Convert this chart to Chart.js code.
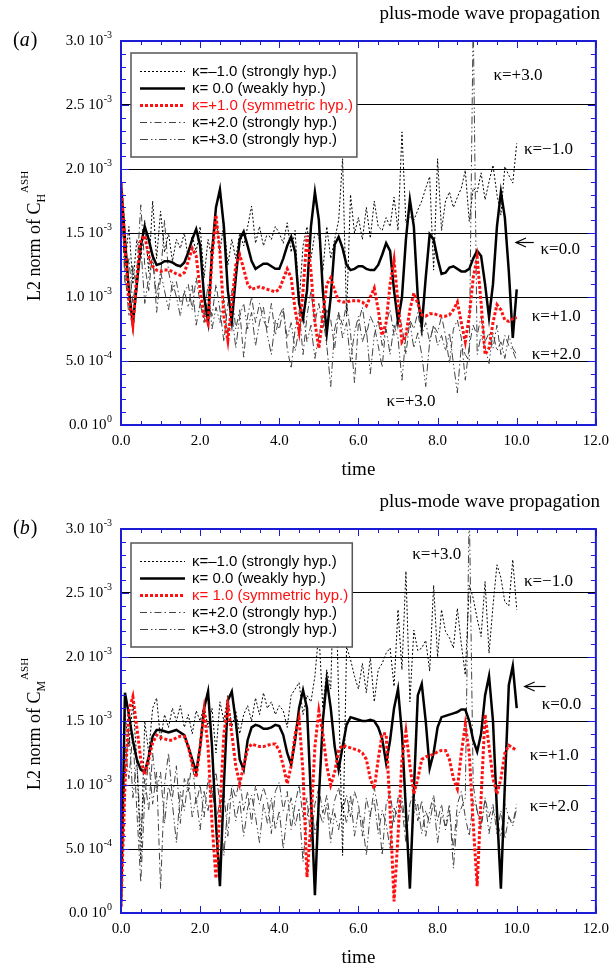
<!DOCTYPE html>
<html>
<head>
<meta charset="utf-8">
<script src="https://cdn.jsdelivr.net/npm/chart.js@4.4.1/dist/chart.umd.min.js"></script>
<style>
  html, body { margin: 0; padding: 0; background: #fff; }
  #wrap { position: relative; width: 616px; height: 970px; }
  canvas { position: absolute; left: 0; }
</style>
</head>
<body>
<div id="wrap">
  <canvas id="chartA" width="616" height="485" style="top:0"></canvas>
  <canvas id="chartB" width="616" height="485" style="top:485px"></canvas>
</div>
<script>
// values are in units of 1e-3
const time = [
  0.0,0.1,0.2,0.3,0.4,0.5,0.6,0.7,0.8,0.9,
  1.0,1.1,1.2,1.3,1.4,1.5,1.6,1.7,1.8,1.9,
  2.0,2.1,2.2,2.3,2.4,2.5,2.6,2.7,2.8,2.9,
  3.0,3.1,3.2,3.3,3.4,3.5,3.6,3.7,3.8,3.9,
  4.0,4.1,4.2,4.3,4.4,4.5,4.6,4.7,4.8,4.9,
  5.0,5.1,5.2,5.3,5.4,5.5,5.6,5.7,5.8,5.9,
  6.0,6.1,6.2,6.3,6.4,6.5,6.6,6.7,6.8,6.9,
  7.0,7.1,7.2,7.3,7.4,7.5,7.6,7.7,7.8,7.9,
  8.0,8.1,8.2,8.3,8.4,8.5,8.6,8.7,8.8,8.9,
  9.0,9.1,9.2,9.3,9.4,9.5,9.6,9.7,9.8,9.9,
  10.0];

// (a) C_H
const kapNeg1A = [
  1.80,1.25,1.55,1.10,1.45,1.30,1.60,1.20,1.75,1.30,
  1.67,1.35,1.50,1.28,1.45,1.38,1.50,1.30,1.48,1.35,
  1.55,1.15,1.45,1.30,1.62,1.35,1.58,1.25,1.45,1.30,
  1.50,1.40,1.55,1.71,1.42,1.55,1.40,1.50,1.45,1.55,
  1.50,1.42,1.58,1.35,1.52,0.95,1.40,1.55,1.30,1.50,
  1.48,1.20,1.55,1.30,1.45,1.60,2.08,0.85,1.80,1.50,
  1.62,1.45,1.70,1.46,1.75,1.55,1.52,1.62,1.55,1.78,
  1.52,2.29,1.58,1.63,1.60,1.68,1.75,1.85,1.94,1.21,
  2.08,1.52,1.75,1.82,1.70,1.78,1.85,1.99,1.59,1.85,
  1.82,1.97,1.76,1.90,2.03,1.80,1.64,2.02,1.95,1.89,
  2.20];
const kap0A = [
  1.89,1.45,1.05,0.79,1.10,1.40,1.55,1.45,1.32,1.25,
  1.26,1.28,1.28,1.27,1.25,1.24,1.27,1.35,1.45,1.53,
  1.40,1.00,0.81,1.35,1.70,1.84,1.55,1.05,0.81,1.15,
  1.45,1.51,1.40,1.28,1.22,1.24,1.26,1.26,1.24,1.22,
  1.22,1.30,1.40,1.47,1.35,0.95,0.83,1.05,1.55,1.82,
  1.60,1.05,0.72,1.00,1.41,1.47,1.38,1.25,1.21,1.22,
  1.24,1.24,1.22,1.21,1.21,1.25,1.33,1.42,1.36,1.05,
  0.81,1.00,1.45,1.76,1.55,1.00,0.77,1.15,1.49,1.45,
  1.30,1.18,1.19,1.23,1.24,1.22,1.20,1.20,1.22,1.30,
  1.36,1.32,1.10,0.84,1.10,1.55,1.82,1.62,1.20,0.68,
  1.06];
const kap1A = [
  1.89,1.40,0.98,0.78,1.15,1.45,1.48,1.32,1.24,1.21,
  1.20,1.21,1.21,1.20,1.18,1.17,1.19,1.28,1.38,1.32,
  1.05,0.85,0.79,1.30,1.64,1.35,0.85,0.66,0.95,1.25,
  1.33,1.22,1.10,1.06,1.07,1.08,1.07,1.06,1.05,1.04,
  1.06,1.14,1.22,1.15,0.90,0.73,1.05,1.48,1.20,0.80,
  0.60,0.85,1.10,1.15,1.05,0.97,0.96,0.96,0.97,0.97,
  0.97,0.96,0.93,1.00,1.07,0.90,0.70,0.80,1.10,1.29,
  0.95,0.65,0.70,0.90,1.03,0.95,0.86,0.85,0.87,0.87,
  0.86,0.85,0.85,0.86,0.90,0.96,0.80,0.65,0.85,1.15,
  1.31,0.95,0.55,0.60,0.80,0.94,0.90,0.82,0.81,0.83,
  0.84];
const kap2A = [
  1.85,1.10,1.30,0.95,1.20,1.72,1.25,1.05,1.35,0.88,
  1.15,1.60,1.20,1.05,1.12,0.95,1.03,1.10,0.90,1.15,
  0.95,0.80,1.00,0.85,1.10,0.90,0.65,0.95,1.05,0.75,
  0.90,0.53,0.85,1.00,0.80,0.95,0.82,0.75,0.95,0.70,
  0.85,0.92,0.60,0.44,0.75,0.90,0.55,0.85,1.05,0.80,
  0.95,0.75,0.90,0.82,0.60,0.88,0.78,0.95,0.72,0.33,
  0.80,0.92,0.70,0.85,0.78,0.62,0.45,0.80,0.90,0.70,
  0.85,0.78,0.55,0.82,0.75,0.88,0.70,0.80,0.65,0.78,
  0.72,0.85,0.70,0.48,0.75,0.82,0.68,0.35,0.62,0.78,
  0.70,0.85,0.65,0.72,0.60,0.78,0.55,0.70,0.62,0.58,
  0.50];
const kap3A = [
  1.85,1.20,0.85,1.25,1.05,1.40,0.95,1.15,1.30,1.00,
  1.20,1.05,0.90,1.12,1.00,0.85,1.05,0.92,1.10,0.78,
  0.95,0.85,1.10,0.75,0.92,0.80,1.00,0.70,0.88,0.60,
  0.85,0.95,0.75,0.88,0.62,0.80,0.92,0.70,0.55,0.82,
  0.75,0.90,0.68,0.80,0.58,0.75,0.88,0.65,0.78,0.52,
  0.70,0.85,0.62,0.30,0.75,0.88,0.68,0.80,0.50,0.72,
  0.85,0.65,0.75,0.40,0.70,0.82,0.62,0.75,0.55,0.78,
  0.68,0.35,0.70,0.80,0.60,0.72,0.55,0.30,0.65,0.78,
  0.62,0.70,0.58,0.72,0.48,0.25,0.62,0.55,0.50,3.20,
  0.55,0.70,0.60,0.48,0.72,0.58,0.65,0.52,0.70,0.60,
  0.55];

// (b) C_M
const kapNeg1B = [
  0.05,1.55,1.30,1.65,1.20,0.40,1.50,1.25,1.60,1.68,
  1.35,1.55,1.45,1.60,1.50,1.62,1.45,1.55,1.40,1.58,
  1.50,1.62,1.45,1.60,1.25,1.65,1.50,1.70,1.45,1.58,
  1.40,1.55,1.62,1.50,1.68,1.55,1.72,1.60,1.65,1.55,
  1.62,1.58,1.45,1.70,1.75,1.80,1.55,1.70,1.65,1.85,
  2.20,1.60,1.90,1.75,2.85,1.70,0.45,2.08,1.98,1.85,
  1.75,1.95,1.72,2.00,1.65,1.90,1.95,2.03,2.07,1.77,
  2.37,1.90,2.67,1.65,2.21,2.05,2.07,2.13,1.89,2.56,
  2.00,2.37,2.20,2.15,2.07,2.38,2.10,1.86,2.56,2.46,
  2.30,2.16,2.59,2.03,2.40,2.72,2.62,2.43,2.40,2.76,
  2.37];
const kap0B = [
  0.05,1.72,1.55,1.35,1.20,1.12,1.10,1.22,1.38,1.43,
  1.43,1.42,1.41,1.42,1.43,1.41,1.39,1.30,1.20,1.10,
  1.30,1.60,1.73,1.30,0.70,0.21,1.00,1.66,1.73,1.50,
  1.20,1.12,1.35,1.45,1.47,1.46,1.44,1.44,1.45,1.47,
  1.46,1.39,1.25,1.16,1.35,1.60,1.74,1.60,0.90,0.14,
  0.90,1.50,1.82,1.60,1.30,1.12,1.30,1.47,1.53,1.52,
  1.51,1.50,1.50,1.51,1.50,1.45,1.36,1.17,1.35,1.60,
  1.75,1.40,0.80,0.19,0.95,1.70,1.79,1.50,1.13,1.25,
  1.45,1.53,1.54,1.55,1.56,1.57,1.59,1.59,1.50,1.35,
  1.26,1.40,1.70,1.85,1.50,0.80,0.19,1.00,1.78,1.93,
  1.60];
const kap1B = [
  0.05,1.00,1.58,1.69,1.45,1.20,1.08,1.20,1.33,1.39,
  1.37,1.36,1.35,1.35,1.37,1.38,1.38,1.30,1.16,1.06,
  1.30,1.58,1.30,0.70,0.27,0.80,1.40,1.62,1.40,1.15,
  1.01,1.15,1.28,1.32,1.31,1.30,1.30,1.31,1.32,1.32,
  1.27,1.15,1.01,1.15,1.40,1.52,1.10,0.28,0.70,1.30,
  1.58,1.40,1.15,1.00,1.10,1.27,1.31,1.30,1.29,1.28,
  1.27,1.25,1.20,1.05,0.97,1.20,1.40,1.40,0.80,0.09,
  0.60,1.20,1.42,1.15,0.93,1.05,1.20,1.22,1.23,1.24,
  1.26,1.27,1.27,1.20,1.05,0.97,1.25,1.47,1.25,0.70,
  0.21,0.90,1.55,1.30,1.05,0.93,1.05,1.25,1.31,1.29,
  1.27];
const kap2B = [
  0.05,1.30,1.05,1.40,0.80,0.24,0.90,1.20,0.85,1.10,
  0.19,1.00,1.25,0.90,1.15,0.70,1.05,0.95,1.20,0.85,
  1.00,0.75,1.05,0.90,1.10,0.85,0.95,0.60,1.00,0.90,
  1.05,0.80,0.95,0.70,1.00,0.85,0.98,0.88,0.62,0.95,
  1.02,0.80,0.95,0.65,0.85,1.00,0.75,0.90,0.55,0.85,
  0.98,0.78,0.92,0.70,0.88,0.98,0.80,0.92,0.75,0.95,
  0.85,0.60,0.90,0.75,0.98,0.80,0.45,0.85,0.95,0.70,
  0.90,0.82,0.55,0.85,0.95,0.72,0.88,0.60,0.80,0.92,
  0.72,0.85,0.65,0.80,0.50,0.85,0.95,0.75,0.60,0.88,
  0.80,0.65,0.90,0.75,0.85,0.62,0.80,0.58,0.75,0.70,
  0.85];
const kap3B = [
  0.05,1.10,1.45,0.90,1.20,0.60,1.05,0.80,1.25,0.95,
  1.10,0.70,1.00,0.85,0.55,0.95,0.80,1.05,0.75,0.90,
  0.65,0.95,0.80,1.00,0.70,0.88,0.45,0.85,0.95,0.72,
  0.88,0.60,0.82,0.92,0.75,0.55,0.85,0.70,0.90,0.65,
  0.80,0.50,0.78,0.90,0.68,0.82,0.40,0.75,0.88,0.62,
  0.80,0.70,0.85,0.55,0.78,0.65,0.85,0.70,0.92,0.60,
  0.80,0.72,0.45,0.78,0.88,0.62,0.80,0.70,0.50,0.82,
  0.75,0.90,0.65,0.40,0.78,0.85,0.62,0.80,0.70,0.88,
  0.55,0.78,0.68,0.85,0.35,0.75,0.82,0.90,3.20,1.00,
  0.80,0.70,0.88,0.62,0.80,0.72,0.60,0.85,0.75,0.68,
  0.82];

const yTickValues   = [0, 0.5, 1.0, 1.5, 2.0, 2.5, 3.0];
const yTickMantissa = ['0.0', '5.0', '1.0', '1.5', '2.0', '2.5', '3.0'];
const yTickExponent = ['0', '-4', '-3', '-3', '-3', '-3', '-3'];

const legendA = ['κ=–1.0 (strongly hyp.)', 'κ= 0.0 (weakly hyp.)', 'κ=+1.0 (symmetric hyp.)',
                 'κ=+2.0 (strongly hyp.)', 'κ=+3.0 (strongly hyp.)'];
const legendB = ['κ=–1.0 (strongly hyp.)', 'κ= 0.0 (weakly hyp.)', 'κ= 1.0 (symmetric hyp.)',
                 'κ=+2.0 (strongly hyp.)', 'κ=+3.0 (strongly hyp.)'];

const SERIF = '"Liberation Serif", "Times New Roman", serif';
const SANS = '"Liberation Sans", Arial, sans-serif';
const FRAME = '#1c1cd6';

const styles = [
  { color: '#000', width: 1,   dash: [2, 2],                order: 2 },
  { color: '#000', width: 2.5, dash: [],                    order: 1 },
  { color: '#ff1010', width: 3, dash: [3, 2],               order: 0 },
  { color: '#444', width: 1,   dash: [7, 3, 1.5, 3],        order: 3 },
  { color: '#444', width: 1,   dash: [8, 3, 1.5, 2.5, 1.5, 2.5], order: 4 }
];

function makeDatasets(series, labels) {
  return series.map((vals, i) => ({
    label: labels[i],
    data: time.map((t, j) => ({ x: t, y: vals[j] })),
    borderColor: styles[i].color,
    borderWidth: styles[i].width,
    borderDash: styles[i].dash,
    order: styles[i].order,
    pointRadius: 0,
    tension: 0,
    fill: false
  }));
}

function line(ctx, x1, y1, x2, y2) {
  ctx.beginPath(); ctx.moveTo(x1, y1); ctx.lineTo(x2, y2); ctx.stroke();
}

const panelDecor = {
  id: 'panelDecor',
  afterDraw(chart, args, o) {
    const ctx = chart.ctx;
    const { left, right, top, bottom } = chart.chartArea;
    const xs = chart.scales.x, ys = chart.scales.y;
    ctx.save();

    // frame with inward ticks
    ctx.strokeStyle = FRAME;
    ctx.lineWidth = 1;
    for (let i = 0; i <= 24; i++) {
      const px = Math.round(xs.getPixelForValue(i * 0.5)) + 0.5;
      const len = i % 4 === 0 ? 7 : 4;
      line(ctx, px, bottom, px, bottom - len);
      line(ctx, px, top, px, top + len);
    }
    for (let i = 0; i <= 30; i++) {
      const py = Math.round(ys.getPixelForValue(i * 0.1)) + 0.5;
      const len = i % 5 === 0 ? 8 : 5;
      line(ctx, left, py, left + len, py);
      line(ctx, right, py, right - len, py);
    }
    ctx.lineWidth = 2;
    ctx.strokeRect(left, top, right - left, bottom - top);

    // y tick labels: mantissa 10^exp
    ctx.fillStyle = '#000';
    ctx.textBaseline = 'middle';
    yTickValues.forEach((v, i) => {
      const py = ys.getPixelForValue(v);
      let x = left - 9;
      ctx.font = '10px ' + SERIF;
      ctx.textAlign = 'right';
      ctx.fillText(yTickExponent[i], x, py - 6);
      x -= ctx.measureText(yTickExponent[i]).width + 0.5;
      ctx.font = '15px ' + SERIF;
      ctx.fillText('10', x, py);
      x -= ctx.measureText('10 ').width;
      ctx.fillText(yTickMantissa[i], x, py);
    });

    // legend box
    const labels = chart.data.datasets.map(d => d.label);
    ctx.font = '15px ' + SANS;
    const maxW = Math.max(...labels.map(l => ctx.measureText(l).width));
    const bx = left + 10, by = top + o.legendTop, bh = 104;
    const bw = 61 + maxW + 4;
    ctx.fillStyle = '#fff';
    ctx.fillRect(bx, by, bw, bh);
    ctx.strokeStyle = '#555';
    ctx.lineWidth = 1.5;
    ctx.strokeRect(bx, by, bw, bh);
    const cy = by + bh / 2;
    chart.data.datasets.forEach((d, i) => {
      const ry = Math.round(cy + (i - 2) * 16.9) + 0.5;
      ctx.strokeStyle = d.borderColor;
      ctx.lineWidth = d.borderWidth;
      ctx.setLineDash(d.borderDash);
      line(ctx, bx + 9, ry, bx + 54, ry);
      ctx.setLineDash([]);
      ctx.fillStyle = i === 2 ? '#ff1010' : '#000';
      ctx.textAlign = 'left';
      ctx.textBaseline = 'middle';
      ctx.fillText(d.label, bx + 61, ry);
    });

    // curve annotations
    ctx.fillStyle = '#000';
    ctx.font = '17px ' + SERIF;
    ctx.textAlign = 'center';
    ctx.textBaseline = 'middle';
    o.notes.forEach(n => {
      ctx.fillText(n.text, xs.getPixelForValue(n.t), ys.getPixelForValue(n.v));
    });
    const a = o.arrow;
    const ax0 = xs.getPixelForValue(a.from), ax1 = xs.getPixelForValue(a.to);
    const ay = Math.round(ys.getPixelForValue(a.v)) + 0.5;
    ctx.strokeStyle = '#000';
    ctx.lineWidth = 1.2;
    line(ctx, ax0, ay, ax1, ay);
    ctx.beginPath();
    ctx.moveTo(ax1 + 10, ay - 4.5); ctx.lineTo(ax1, ay); ctx.lineTo(ax1 + 10, ay + 4.5);
    ctx.stroke();

    // panel title and letter
    ctx.font = '19px ' + SERIF;
    ctx.textAlign = 'right';
    ctx.fillText('plus-mode wave propagation', 600, top - 27);
    ctx.textAlign = 'left';
    ctx.font = '20px ' + SERIF;
    ctx.fillText('(', 13, top);
    let lx = 13 + ctx.measureText('(').width;
    ctx.font = 'italic 20px ' + SERIF;
    ctx.fillText(o.letter, lx, top);
    lx += ctx.measureText(o.letter).width + 1;
    ctx.font = '20px ' + SERIF;
    ctx.fillText(')', lx, top);

    // x title
    ctx.font = '19px ' + SERIF;
    ctx.textAlign = 'center';
    ctx.fillText('time', (left + right) / 2, bottom + 45);

    // y title: L2 norm of C_sub^ASH, rotated
    ctx.translate(40, (top + bottom) / 2 + 3);
    ctx.rotate(-Math.PI / 2);
    ctx.textBaseline = 'alphabetic';
    ctx.textAlign = 'left';
    const main = 'L2 norm of C';
    ctx.font = '18px ' + SERIF;
    const wMain = ctx.measureText(main).width;
    ctx.font = '12px ' + SERIF;
    const wSub = ctx.measureText(o.sub).width;
    ctx.font = '11px ' + SERIF;
    const wSup = ctx.measureText('ASH').width;
    let tx = -(wMain + wSub + wSup + 1) / 2;
    ctx.font = '18px ' + SERIF;
    ctx.fillText(main, tx, 0);
    tx += wMain;
    ctx.font = '12px ' + SERIF;
    ctx.fillText(o.sub, tx, 5);
    tx += wSub + 1;
    ctx.font = '11px ' + SERIF;
    ctx.fillText('ASH', tx, -12);

    ctx.restore();
  }
};

function makeChart(id, series, labels, decor, topPad) {
  new Chart(document.getElementById(id), {
    type: 'line',
    data: { datasets: makeDatasets(series, labels) },
    plugins: [panelDecor],
    options: {
      responsive: false,
      animation: false,
      events: [],
      layout: { padding: { top: topPad, right: 15, left: 0, bottom: 0 } },
      plugins: {
        legend: { display: false },
        tooltip: { enabled: false },
        panelDecor: decor
      },
      scales: {
        x: {
          type: 'linear', min: 0, max: 12,
          ticks: {
            stepSize: 2, autoSkip: false, maxRotation: 0, padding: 7,
            color: '#000', font: { family: SERIF, size: 15 },
            callback: v => v.toFixed(1)
          },
          grid: { display: false, drawTicks: false },
          border: { display: false },
          afterFit: s => { s.height = 485 - topPad - 384; }
        },
        y: {
          min: 0, max: 3,
          ticks: { stepSize: 0.5, display: false },
          grid: {
            drawTicks: false, lineWidth: 1,
            color: c => (c.tick.value > 0 && c.tick.value < 3) ? '#000' : 'rgba(0,0,0,0)'
          },
          border: { display: false },
          afterFit: s => { s.width = 121; }
        }
      }
    }
  });
}

makeChart('chartA', [kapNeg1A, kap0A, kap1A, kap2A, kap3A], legendA, {
  letter: 'a', sub: 'H', legendTop: 12,
  notes: [
    { text: 'κ=+3.0', t: 10.03, v: 2.73 },
    { text: 'κ=−1.0', t: 10.8, v: 2.15 },
    { text: 'κ=0.0', t: 11.1, v: 1.37 },
    { text: 'κ=+1.0', t: 11.0, v: 0.85 },
    { text: 'κ=+2.0', t: 11.0, v: 0.55 },
    { text: 'κ=+3.0', t: 7.33, v: 0.18 }
  ],
  arrow: { from: 10.43, to: 9.98, v: 1.43 }
}, 41);

makeChart('chartB', [kapNeg1B, kap0B, kap1B, kap2B, kap3B], legendB, {
  letter: 'b', sub: 'M', legendTop: 14,
  notes: [
    { text: 'κ=+3.0', t: 7.98, v: 2.8 },
    { text: 'κ=−1.0', t: 10.8, v: 2.59 },
    { text: 'κ=0.0', t: 11.13, v: 1.63 },
    { text: 'κ=+1.0', t: 10.95, v: 1.23 },
    { text: 'κ=+2.0', t: 10.95, v: 0.83 }
  ],
  arrow: { from: 10.73, to: 10.2, v: 1.77 }
}, 44);
</script>
</body>
</html>
